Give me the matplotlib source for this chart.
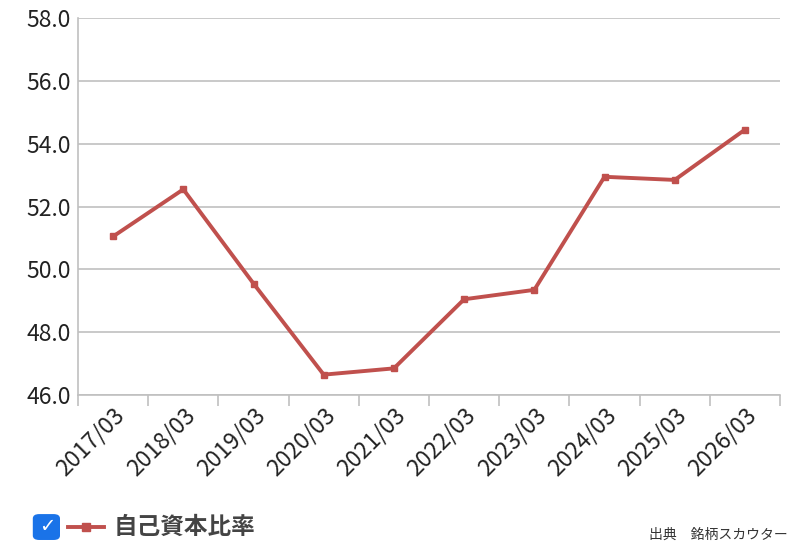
import matplotlib
matplotlib.use("Agg")
import matplotlib.pyplot as plt
from matplotlib.patches import FancyBboxPatch
from matplotlib.lines import Line2D

plt.rcParams['font.family'] = ['Noto Sans CJK JP', 'DejaVu Sans']

categories = ["2017/03", "2018/03", "2019/03", "2020/03", "2021/03",
              "2022/03", "2023/03", "2024/03", "2025/03", "2026/03"]
values = [51.05, 52.55, 49.55, 46.65, 46.85, 49.05, 49.35, 52.95, 52.85, 54.45]
yticks = [46.0, 48.0, 50.0, 52.0, 54.0, 56.0, 58.0]
series_name = "自己資本比率"
color = "#c0504d"

fig = plt.figure(figsize=(8, 5.51), dpi=100)
ax = fig.add_axes([0.0975, 0.283, 0.8775, 0.684])
x = [i + 0.5 for i in range(len(categories))]
ax.plot(x, values, color=color, lw=2.8, marker='s', ms=5, zorder=3)
ax.set_xlim(0, len(categories))
ax.set_ylim(46, 58)
ax.set_yticks(yticks)
ax.set_yticklabels([f"{v:.1f}" for v in yticks], fontsize=16.5, color="#222222")
ax.yaxis.grid(True, color="#c0c0c0", lw=1.2)
ax.set_axisbelow(True)
ax.tick_params(axis='y', length=0, pad=5)
ax.set_xticks(range(len(categories) + 1))
ax.set_xticklabels([])
ax.set_xticks(x, minor=True)
ax.set_xticklabels(categories, minor=True, rotation=45, ha='right', va='top',
                   rotation_mode='anchor', fontsize=16.5, color="#222222")
ax.tick_params(axis='x', which='major', length=8, color="#c0c0c0", width=1.2)
ax.tick_params(axis='x', which='minor', length=0, pad=6)
for s in ['top', 'right']:
    ax.spines[s].set_visible(False)
for s in ['left', 'bottom']:
    ax.spines[s].set_color("#c0c0c0")
    ax.spines[s].set_linewidth(1.2)

# legend
box = FancyBboxPatch((0.043, 0.022), 0.03, 0.043, boxstyle="round,pad=0.002,rounding_size=0.008",
                     transform=fig.transFigure, facecolor="#1a73e8", edgecolor="none")
fig.patches.append(box)
fig.text(0.0585, 0.044, "✓", color="white", fontsize=14, ha='center', va='center',
         fontweight='bold', family='DejaVu Sans')
fig.lines.append(Line2D([0.085, 0.13], [0.044, 0.044], transform=fig.transFigure,
                        color=color, lw=2.8))
fig.lines.append(Line2D([0.1075], [0.044], transform=fig.transFigure, color=color,
                        marker='s', ms=6))
fig.text(0.142, 0.044, series_name, fontsize=17, fontweight='bold', color="#444444",
         ha='left', va='center')
fig.text(0.985, 0.03, "出典　銘柄スカウター", fontsize=10, color="#333333",
         ha='right', va='center')

fig.savefig("out.png", dpi=100)
